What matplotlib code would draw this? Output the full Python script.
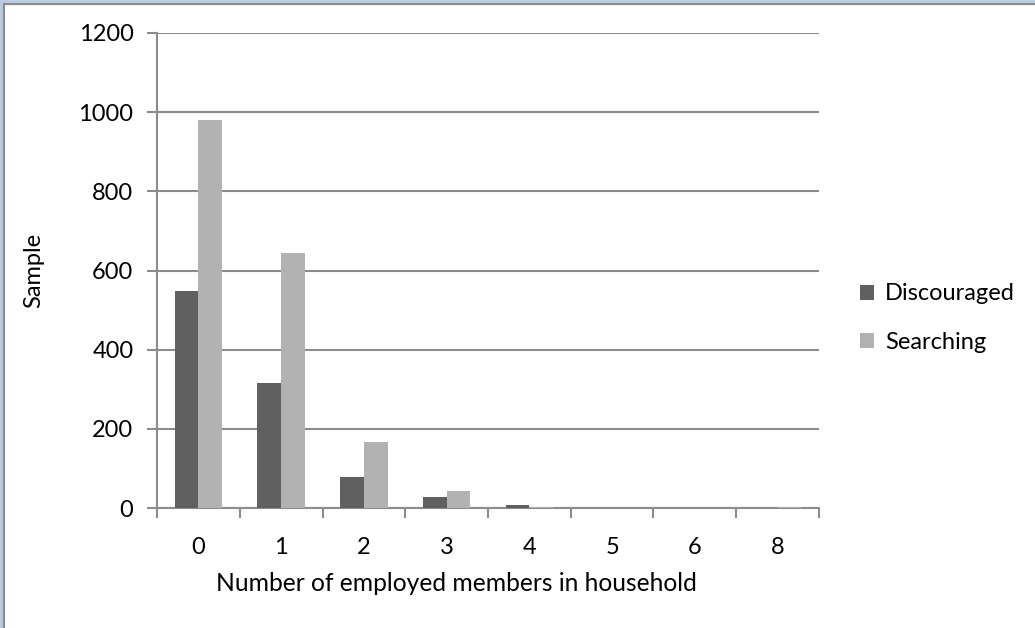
import matplotlib
matplotlib.use('Agg')
import matplotlib.pyplot as plt
import numpy as np
from matplotlib.patches import Rectangle

plt.rcParams['font.family'] = ['Lato', 'DejaVu Sans']

categories = ['0', '1', '2', '3', '4', '5', '6', '8']
discouraged = [547, 316, 78, 28, 7, 0, 0, 0]
searching = [980, 644, 166, 43, 3, 1, 1, 2]

dark = '#606060'
light = '#b2b2b2'
grid = '#8c8c8c'
fs = 17

fig = plt.figure(figsize=(10.35, 6.28), dpi=100)
ax = fig.add_axes([0.1517, 0.191, 0.6396, 0.7565])

x = np.arange(len(categories))
w = 1 / 3.5
ax.bar(x - w / 2, discouraged, w, color=dark, label='Discouraged', zorder=3)
ax.bar(x + w / 2, searching, w, color=light, label='Searching', zorder=3)

ax.set_xlim(-0.5, len(categories) - 0.5)
ax.set_ylim(0, 1200)
ax.set_yticks(np.arange(0, 1201, 200))
ax.yaxis.grid(True, color=grid, linewidth=1.5, zorder=0)

ax.set_xticks(x)
ax.set_xticklabels(categories)
ax.set_xticks(np.arange(-0.5, len(categories)), minor=True)
ax.tick_params(axis='x', which='major', length=0, pad=21, labelsize=fs)
ax.tick_params(axis='x', which='minor', length=7, width=1.5, color=grid)
ax.tick_params(axis='y', length=7, width=1.5, color=grid, pad=10, labelsize=fs)

for side in ['top', 'right']:
    ax.spines[side].set_visible(False)
for side in ['left', 'bottom']:
    ax.spines[side].set_color(grid)
    ax.spines[side].set_linewidth(1.5)

ax.set_xlabel('Number of employed members in household', fontsize=17.7)
ax.xaxis.set_label_coords(0.453, -0.135)
ax.set_ylabel('Sample', fontsize=fs)
ax.yaxis.set_label_coords(-0.171, 0.5)

ax.legend(loc='center left', bbox_to_anchor=(1.03, 0.40), frameon=False,
          fontsize=fs, handlelength=0.6, handleheight=0.6, handletextpad=0.45,
          labelspacing=1.15)

# window-style frame around the chart area
fig.patches.append(Rectangle((0, 0.994), 1, 0.006, transform=fig.transFigure,
                             color='#b8cce4', zorder=-1))
fig.patches.append(Rectangle((0, 0), 0.003, 1, transform=fig.transFigure,
                             color='#b8cce4', zorder=-1))
fig.add_artist(plt.Line2D([0.0035, 1], [0.9935, 0.9935], color='#8c8c8c',
                          linewidth=1.5, transform=fig.transFigure))
fig.add_artist(plt.Line2D([0.0035, 0.0035], [0, 0.9935], color='#8c8c8c',
                          linewidth=1.5, transform=fig.transFigure))

fig.savefig('out.png', dpi=100)
